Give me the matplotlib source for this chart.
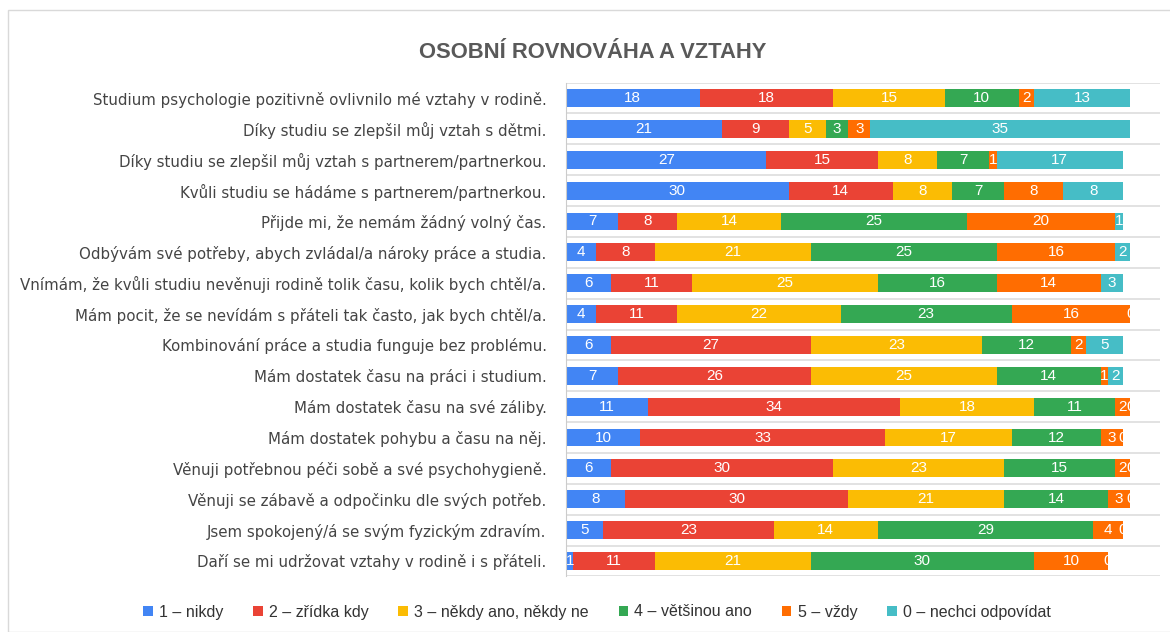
import numpy as np
import matplotlib.pyplot as plt
from matplotlib.patches import Rectangle

plt.rcParams['font.family'] = ['Liberation Sans', 'DejaVu Sans']

# otazky (shora dolu)
otazky = [
    "Studium psychologie pozitivně ovlivnilo mé vztahy v rodině.",
    "Díky studiu se zlepšil můj vztah s dětmi.",
    "Díky studiu se zlepšil můj vztah s partnerem/partnerkou.",
    "Kvůli studiu se hádáme s partnerem/partnerkou.",
    "Přijde mi, že nemám žádný volný čas.",
    "Odbývám své potřeby, abych zvládal/a nároky práce a studia.",
    "Vnímám, že kvůli studiu nevěnuji rodině tolik času, kolik bych chtěl/a.",
    "Mám pocit, že se nevídám s přáteli tak často, jak bych chtěl/a.",
    "Kombinování práce a studia funguje bez problému.",
    "Mám dostatek času na práci i studium.",
    "Mám dostatek času na své záliby.",
    "Mám dostatek pohybu a času na něj.",
    "Věnuji potřebnou péči sobě a své psychohygieně.",
    "Věnuji se zábavě a odpočinku dle svých potřeb.",
    "Jsem spokojený/á se svým fyzickým zdravím.",
    "Daří se mi udržovat vztahy v rodině i s přáteli.",
]

odpovedi = ["1 – nikdy", "2 – zřídka kdy", "3 – někdy ano, někdy ne",
            "4 – většinou ano", "5 – vždy", "0 – nechci odpovídat"]

nikdy     = [18, 21, 27, 30, 7, 4, 6, 4, 6, 7, 11, 10, 6, 8, 5, 1]
zridka    = [18, 9, 15, 14, 8, 8, 11, 11, 27, 26, 34, 33, 30, 30, 23, 11]
nekdy     = [15, 5, 8, 8, 14, 21, 25, 22, 23, 25, 18, 17, 23, 21, 14, 21]
vetsinou  = [10, 3, 7, 7, 25, 25, 16, 23, 12, 14, 11, 12, 15, 14, 29, 30]
vzdy      = [2, 3, 1, 8, 20, 16, 14, 16, 2, 1, 2, 3, 2, 3, 4, 10]
nechci    = [13, 35, 17, 8, 1, 2, 3, 0, 5, 2, 0, 0, 0, 0, 0, 0]

barvy = ['#4285F4', '#EA4335', '#FBBC04', '#34A853', '#FF6D01', '#46BDC6']

data = [nikdy, zridka, nekdy, vetsinou, vzdy, nechci]

fig = plt.figure(figsize=(11.7, 6.32), dpi=100)
ax = fig.add_axes([566/1170, 1-576.4/632, (1160-566)/1170, (576.4-82.6)/632])

# ramecek kolem grafu
fig.patches.append(Rectangle((8/1170, 0), 1.2, 1-10/632, transform=fig.transFigure,
                             fill=False, edgecolor='#d9d9d9', linewidth=1.0))

y = np.arange(len(otazky))
left = np.zeros(len(otazky))
for hodnoty, barva, nazev in zip(data, barvy, odpovedi):
    hodnoty = np.array(hodnoty)
    ax.barh(y, hodnoty, left=left, height=0.58, color=barva, label=nazev)
    for yi, l, v in zip(y, left, hodnoty):
        ax.text(l + v/2, yi, str(v), ha='center', va='center', color='white',
                fontsize=11, clip_on=True)
    left = left + hodnoty

ax.set_xlim(0, 80)
ax.set_ylim(len(otazky) - 0.5, -0.5)
ax.set_yticks(y)
ax.set_yticklabels(otazky, fontsize=10.8, color='#444444', family='DejaVu Sans')
ax.tick_params(axis='y', length=0, pad=14)
ax.set_xticks([])

# vodorovne mrizky mezi radky
for g in np.arange(-0.5, len(otazky), 1):
    ax.axhline(g, color='#dddddd', linewidth=1.2, zorder=0)

for s in ['top', 'right', 'bottom']:
    ax.spines[s].set_visible(False)
ax.spines['left'].set_color('#cccccc')

fig.text(593/1170, 1-52/632, "OSOBNÍ ROVNOVÁHA A VZTAHY", ha='center', va='center',
         fontsize=15.8, fontweight='bold', color='#595959')

fig.legend(loc='center', bbox_to_anchor=(597/1170, 1-612/632), ncol=6, frameon=False,
           fontsize=11.5, handlelength=0.6, handleheight=0.6, handletextpad=0.4,
           columnspacing=1.85, labelcolor='#333333')

fig.savefig('out.png', dpi=100)
